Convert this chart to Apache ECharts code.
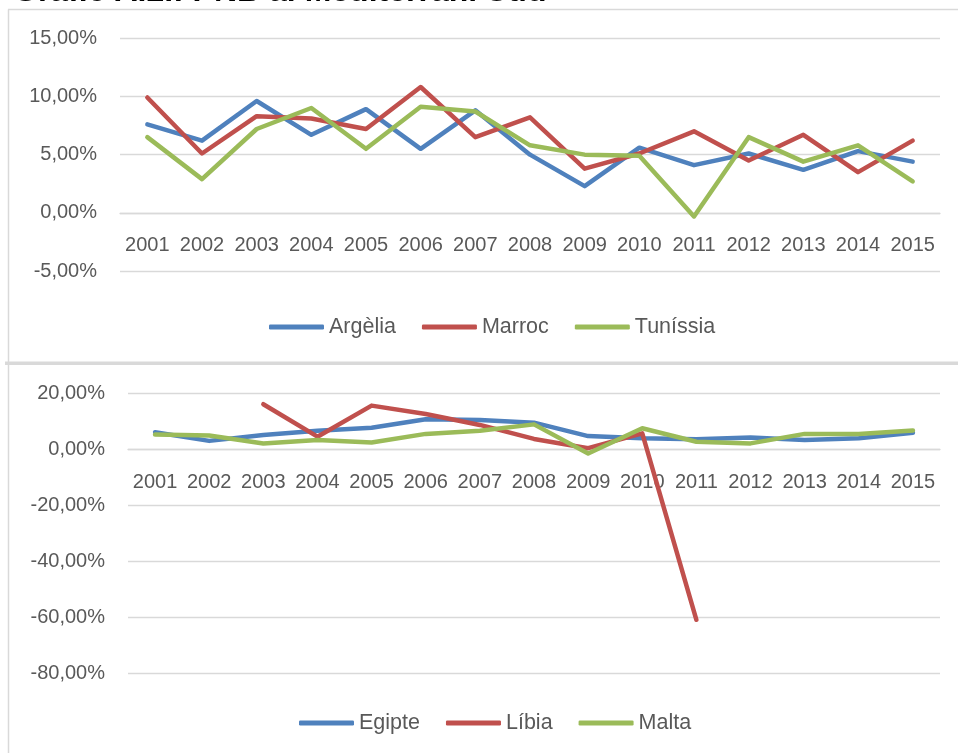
<!DOCTYPE html>
<html>
<head>
<meta charset="utf-8">
<script src="https://cdn.jsdelivr.net/npm/echarts@6/dist/echarts.min.js"></script>
<style>
html,body{margin:0;padding:0;background:#fff;}
#c{width:958px;height:753px;}
</style>
</head>
<body>
<div id="c"></div>
<script>
const years = ['2001','2002','2003','2004','2005','2006','2007','2008','2009','2010','2011','2012','2013','2014','2015'];

const argelia  = [7.6, 6.2, 9.6, 6.7, 8.9, 5.5, 8.8, 5.0, 2.3, 5.6, 4.1, 5.1, 3.7, 5.3, 4.4];
const marroc   = [9.9, 5.1, 8.3, 8.1, 7.2, 10.8, 6.5, 8.2, 3.8, 5.1, 7.0, 4.5, 6.7, 3.5, 6.2];
const tunissia = [6.5, 2.9, 7.2, 9.0, 5.5, 9.1, 8.7, 5.8, 5.0, 4.9, -0.3, 6.5, 4.4, 5.8, 2.7];

const egipte = [6.0, 2.9, 5.0, 6.5, 7.6, 10.6, 10.4, 9.4, 4.6, 3.8, 3.5, 4.1, 3.2, 3.8, 5.8];
const libia  = [null, null, 16.0, 4.4, 15.5, 12.5, 8.6, 3.6, 0.3, 5.6, -61.0, null, null, null, null];
const malta  = [5.2, 4.8, 2.0, 3.2, 2.3, 5.4, 6.5, 8.8, -1.6, 7.4, 2.6, 2.0, 5.4, 5.4, 6.6];

const topTicks = {min: -5, max: 15, interval: 5};
const botTicks = {min: -80, max: 20, interval: 20};

const FONT = 'Liberation Sans';
const GREY = '#595959';
const GRID = '#d9d9d9';
const C_BLUE = '#4f81bd', C_RED = '#c0504d', C_GREEN = '#9bbb59';

const grids = [
  {left: 120, right: 18, top: 38, height: 233.3},
  {left: 128, right: 18, top: 393, height: 280}
];
const ticks = [topTicks, botTicks];

function pct(v){ return v.toFixed(2).replace('.', ',') + '%'; }

// place the category axis where value 0 sits on the value axis of the same grid
function zeroOffset(gi){
  const t = ticks[gi];
  return -((0 - t.min) / (t.max - t.min)) * grids[gi].height;
}

function xAxis(gi){
  return {
    type: 'category', gridIndex: gi, data: years, boundaryGap: true,
    position: 'bottom', offset: zeroOffset(gi), z: 0,
    axisLine: {show: true, onZero: false, lineStyle: {color: GRID, width: 1.3}},
    axisTick: {show: false},
    axisLabel: {interval: 0, color: GREY, fontFamily: FONT, fontSize: 20, margin: 23},
    splitLine: {show: false}
  };
}
function yAxis(gi){
  const t = ticks[gi];
  return {
    type: 'value', gridIndex: gi, min: t.min, max: t.max, interval: t.interval,
    axisLine: {show: false}, axisTick: {show: false},
    axisLabel: {color: GREY, fontFamily: FONT, fontSize: 20, margin: 23, formatter: pct},
    splitLine: {show: true, lineStyle: {color: GRID, width: 1.3}}
  };
}
function line(name, data, color, gi){
  return {
    name: name, type: 'line', xAxisIndex: gi, yAxisIndex: gi, data: data,
    symbol: 'none', connectNulls: false, animation: false, z: 5,
    lineStyle: {color: color, width: 4.5, cap: 'round', join: 'round'},
    itemStyle: {color: color}
  };
}
function legend(names, left, top){
  return {
    data: names, left: left, top: top, itemWidth: 55, itemHeight: 5, itemGap: 26,
    icon: 'roundRect',
    textStyle: {color: GREY, fontFamily: FONT, fontSize: 21.5}
  };
}

const chart = echarts.init(document.getElementById('c'), null, {renderer: 'canvas'});
chart.setOption({
  animation: false,
  backgroundColor: '#fff',
  grid: grids.map(g => Object.assign({containLabel: false}, g)),
  xAxis: [xAxis(0), xAxis(1)],
  yAxis: [yAxis(0), yAxis(1)],
  legend: [
    legend(['Argèlia','Marroc','Tuníssia'], 264, 311),
    legend(['Egipte','Líbia','Malta'], 294, 707)
  ],
  series: [
    line('Argèlia', argelia, C_BLUE, 0),
    line('Marroc', marroc, C_RED, 0),
    line('Tuníssia', tunissia, C_GREEN, 0),
    line('Egipte', egipte, C_BLUE, 1),
    line('Líbia', libia, C_RED, 1),
    line('Malta', malta, C_GREEN, 1)
  ],
  graphic: [
    {type: 'text', left: 13, top: -24, z: 10,
     style: {text: 'Gràfic A.2.: PNB al Mediterrani Sud', font: 'bold 32px "Liberation Sans"', fill: '#000'}},
    {type: 'line', shape: {x1: 8, y1: 9.5, x2: 958, y2: 9.5}, style: {stroke: GRID, lineWidth: 1.5}, z: 1},
    {type: 'line', shape: {x1: 8.5, y1: 9.5, x2: 8.5, y2: 753}, style: {stroke: GRID, lineWidth: 1.5}, z: 1},
    {type: 'rect', shape: {x: 5, y: 361.5, width: 953, height: 3.5}, style: {fill: GRID}, z: 1}
  ]
});
</script>
</body>
</html>
